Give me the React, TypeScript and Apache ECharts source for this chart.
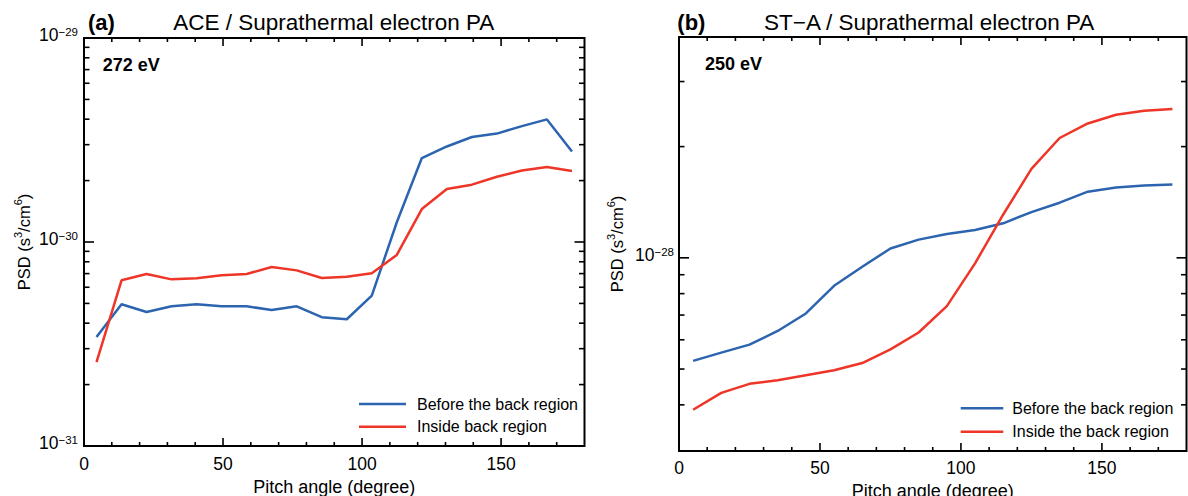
import React, { useEffect, useRef } from 'react';
import * as echarts from 'echarts';

// ---------- data ----------
const anglesA = [4.5, 13.5, 22.5, 31.5, 40.5, 49.5, 58.5, 67.5, 76.5, 85.5, 94.5, 103.5, 112.5, 121.5, 130.5, 139.5, 148.5, 157.5, 166.5, 175.5];
const beforeA = [3.42e-31, 4.95e-31, 4.54e-31, 4.84e-31, 4.95e-31, 4.84e-31, 4.84e-31, 4.64e-31, 4.84e-31, 4.28e-31, 4.18e-31, 5.46e-31, 1.25e-30, 2.58e-30, 2.94e-30, 3.27e-30, 3.4e-30, 3.7e-30, 3.99e-30, 2.78e-30];
const insideA = [2.58e-31, 6.49e-31, 6.97e-31, 6.56e-31, 6.64e-31, 6.87e-31, 6.97e-31, 7.54e-31, 7.26e-31, 6.66e-31, 6.76e-31, 7.03e-31, 8.64e-31, 1.45e-30, 1.82e-30, 1.91e-30, 2.09e-30, 2.24e-30, 2.33e-30, 2.23e-30];

const anglesB = [5, 15, 25, 35, 45, 55, 65, 75, 85, 95, 105, 115, 125, 135, 145, 155, 165, 175];
const beforeB = [5.26e-29, 5.54e-29, 5.82e-29, 6.34e-29, 7.07e-29, 8.4e-29, 9.46e-29, 1.06e-28, 1.12e-28, 1.16e-28, 1.19e-28, 1.24e-28, 1.33e-28, 1.41e-28, 1.51e-28, 1.55e-28, 1.57e-28, 1.58e-28];
const insideB = [3.88e-29, 4.31e-29, 4.56e-29, 4.66e-29, 4.81e-29, 4.96e-29, 5.19e-29, 5.65e-29, 6.28e-29, 7.4e-29, 9.66e-29, 1.31e-28, 1.74e-28, 2.11e-28, 2.31e-28, 2.44e-28, 2.5e-28, 2.53e-28];

const xRange = [0, 180];
const xMajorTicks = [0, 50, 100, 150];
const xMinorTicks = [10, 20, 30, 40, 60, 70, 80, 90, 110, 120, 130, 140, 160, 170];

const yRangeA = [0.99999e-31, 1.00001e-29];
const yMajorTicksA = [1e-31, 1e-30, 1e-29];
const yMinorTicksA = [2e-31, 3e-31, 4e-31, 5e-31, 6e-31, 7e-31, 8e-31, 9e-31, 2e-30, 3e-30, 4e-30, 5e-30, 6e-30, 7e-30, 8e-30, 9e-30];

const yRangeB = [3e-29, 3.96e-28];
const yMajorTicksB = [1e-28];
const yMinorTicksB = [4e-29, 5e-29, 6e-29, 7e-29, 8e-29, 9e-29, 2e-28, 3e-28];

const nameBefore = 'Before the back region';
const nameInsideA = 'Inside back region';
const nameInsideB = 'Inside the back region';
const titleA = 'ACE / Suprathermal electron PA';
const titleB = 'ST\u2212A / Suprathermal electron PA';
const energyA = '272 eV';
const energyB = '250 eV';
const xName = 'Pitch angle (degree)';
const yName = '{n|PSD (s}{s|3}{n|/cm}{s|6}{n|)}';

// ---------- style ----------
const FONT = "'Liberation Sans', Arial, Helvetica, sans-serif";
const BLACK = '#000';
const BLUE = '#2c64b0';
const RED = '#ee3528';

const labelRich = {
  b: { font: `17.5px ${FONT}`, fontFamily: FONT, fontSize: 17.5, fill: BLACK, lineHeight: 18, verticalAlign: 'bottom' },
  e: { font: `11.5px ${FONT}`, fontFamily: FONT, fontSize: 11.5, fill: BLACK, lineHeight: 12, verticalAlign: 'top', padding: [0, 0, 12, 0] },
};

function expLabel(v: number) {
  const e = Math.round(Math.log10(v));
  return `{b|10}{e|${e < 0 ? '\u2212' : ''}${Math.abs(e)}}`;
}

function xAxisFor(grid: number, nameGap: number, labelMargin: number) {
  return {
    type: 'value',
    gridIndex: grid,
    min: xRange[0],
    max: xRange[1],
    position: 'bottom',
    splitLine: { show: false },
    axisLine: { show: false, onZero: false },
    axisTick: { show: false },
    name: xName,
    nameLocation: 'middle',
    nameGap,
    nameTextStyle: { fontFamily: FONT, fontSize: 18, color: BLACK },
    axisLabel: { customValues: xMajorTicks, margin: labelMargin, fontFamily: FONT, fontSize: 17.5, color: BLACK },
  };
}

function yAxisFor(grid: number, range: number[], nameGap: number) {
  return {
    type: 'log',
    logBase: 10,
    gridIndex: grid,
    min: range[0],
    max: range[1],
    position: 'left',
    splitLine: { show: false },
    axisLine: { show: false, onZero: false },
    axisTick: { show: false },
    axisLabel: { show: false },
    name: yName,
    nameLocation: 'middle',
    nameGap,
    nameTextStyle: {
      rich: {
        n: { fontFamily: FONT, fontSize: 16.5, color: BLACK, lineHeight: 20, verticalAlign: 'bottom' },
        s: { fontFamily: FONT, fontSize: 11, color: BLACK, lineHeight: 12, verticalAlign: 'top' },
      },
    },
  };
}

// ticks on both opposite edges of the frame, placed through the axis scales
function tickSeries(axisIdx: number, kind: 'x' | 'y', values: number[], other: number, len: number) {
  return {
    type: 'custom',
    xAxisIndex: axisIdx,
    yAxisIndex: axisIdx,
    silent: true,
    z: 5,
    data: values.map((v) => (kind === 'x' ? [v, other] : [other, v])),
    renderItem: (params: any, api: any) => {
      const cs = params.coordSys;
      const p = api.coord([api.value(0), api.value(1)]);
      const style = { stroke: BLACK, lineWidth: 1.6 };
      if (kind === 'x') {
        const x = p[0];
        const b = cs.y + cs.height;
        const t = cs.y;
        return {
          type: 'group',
          children: [
            { type: 'line', shape: { x1: x, y1: b, x2: x, y2: b - len }, style },
            { type: 'line', shape: { x1: x, y1: t, x2: x, y2: t + len }, style },
          ],
        };
      }
      const y = p[1];
      const l = cs.x;
      const r = cs.x + cs.width;
      return {
        type: 'group',
        children: [
          { type: 'line', shape: { x1: l, y1: y, x2: l + len, y2: y }, style },
          { type: 'line', shape: { x1: r, y1: y, x2: r - len, y2: y }, style },
        ],
      };
    },
  };
}

function yLabelSeries(axisIdx: number, values: number[], other: number, margin: number) {
  return {
    type: 'custom',
    xAxisIndex: axisIdx,
    yAxisIndex: axisIdx,
    silent: true,
    z: 5,
    data: values.map((v) => [other, v]),
    renderItem: (params: any, api: any) => {
      const cs = params.coordSys;
      const v = api.value(1);
      const p = api.coord([api.value(0), v]);
      return {
        type: 'text',
        x: cs.x - margin,
        y: p[1],
        style: {
          legacy: false,
          text: expLabel(v),
          rich: labelRich,
          fill: BLACK,
          font: `17.5px ${FONT}`,
          align: 'right',
          verticalAlign: 'middle',
          padding: [0, 0, 6, 0],
        },
      };
    },
  };
}

function pairs(xs: number[], ys: number[]) {
  return xs.map((x, i) => [x, ys[i]]);
}

function lineSeries(name: string, color: string, idx: number, data: number[][]) {
  return {
    type: 'line',
    name,
    xAxisIndex: idx,
    yAxisIndex: idx,
    data,
    symbol: 'none',
    showSymbol: false,
    smooth: false,
    color,
    z: 3,
    lineStyle: { color, width: 2.5 },
    emphasis: { disabled: true },
  };
}

function textEl(text: string, x: number, y: number, size: number, bold: boolean) {
  return {
    type: 'text',
    x,
    y,
    silent: true,
    style: {
      text,
      fontFamily: FONT,
      fontSize: size,
      fontWeight: bold ? 'bold' : 'normal',
      fill: BLACK,
      verticalAlign: 'middle',
      align: 'left',
    },
  };
}

function legendFor(left: number, top: number, width: number, gap: number, rowGap: number, names: string[]) {
  return {
    orient: 'vertical',
    left,
    top,
    padding: 0,
    icon: 'rect',
    itemWidth: width,
    itemHeight: 2.5,
    itemGap: rowGap,
    selectedMode: false,
    data: names,
    textStyle: { fontFamily: FONT, fontSize: 16, color: BLACK, lineHeight: 18, padding: [0, 0, 0, gap] },
  };
}

export default function App() {
  const ref = useRef<HTMLDivElement>(null);
  useEffect(() => {
    if (!ref.current) return;
    const chart = echarts.init(ref.current, null, { renderer: 'svg' });
    const frame = { show: true, borderColor: BLACK, borderWidth: 2, backgroundColor: 'transparent', outerBoundsMode: 'none', containLabel: false };
    const option: any = {
      animation: false,
      backgroundColor: '#fff',
      grid: [
        { ...frame, left: 84, top: 38, width: 500.5, height: 408 },
        { ...frame, left: 679, top: 37, width: 507.5, height: 414 },
      ],
      xAxis: [xAxisFor(0, 30, 9), xAxisFor(1, 24.5, 8)],
      yAxis: [yAxisFor(0, yRangeA, 52), yAxisFor(1, yRangeB, 54)],
      legend: [
        legendFor(359, 395, 47, 6, 4.7, [nameBefore, nameInsideA]),
        legendFor(960.7, 399.3, 42.6, 4, 5.4, [nameBefore, nameInsideB]),
      ],
      series: [
        lineSeries(nameBefore, BLUE, 0, pairs(anglesA, beforeA)),
        lineSeries(nameInsideA, RED, 0, pairs(anglesA, insideA)),
        lineSeries(nameBefore, BLUE, 1, pairs(anglesB, beforeB)),
        lineSeries(nameInsideB, RED, 1, pairs(anglesB, insideB)),
        tickSeries(0, 'x', xMajorTicks, yRangeA[0], 8),
        tickSeries(0, 'x', xMinorTicks, yRangeA[0], 4),
        tickSeries(0, 'y', yMajorTicksA, xRange[0], 10),
        tickSeries(0, 'y', yMinorTicksA, xRange[0], 5.5),
        yLabelSeries(0, yMajorTicksA, xRange[0], 6),
        tickSeries(1, 'x', xMajorTicks, yRangeB[0], 8),
        tickSeries(1, 'x', xMinorTicks, yRangeB[0], 4),
        tickSeries(1, 'y', yMajorTicksB, xRange[0], 10),
        tickSeries(1, 'y', yMinorTicksB, xRange[0], 5.5),
        yLabelSeries(1, yMajorTicksB, xRange[0], 5),
      ],
      graphic: [
        textEl('(a)', 88, 22.3, 22, true),
        textEl(titleA, 173.3, 22.3, 22.5, false),
        textEl(energyA, 102.7, 64.5, 18, true),
        textEl('(b)', 677.3, 22.8, 22, true),
        textEl(titleB, 764, 22.8, 22.5, false),
        textEl(energyB, 705, 64.3, 18, true),
      ],
    };
    chart.setOption(option);
    return () => chart.dispose();
  }, []);
  return (
    <div
      ref={ref}
      style={{ position: 'fixed', left: 0, top: 0, width: 1188, height: 496, background: '#fff' }}
    />
  );
}
